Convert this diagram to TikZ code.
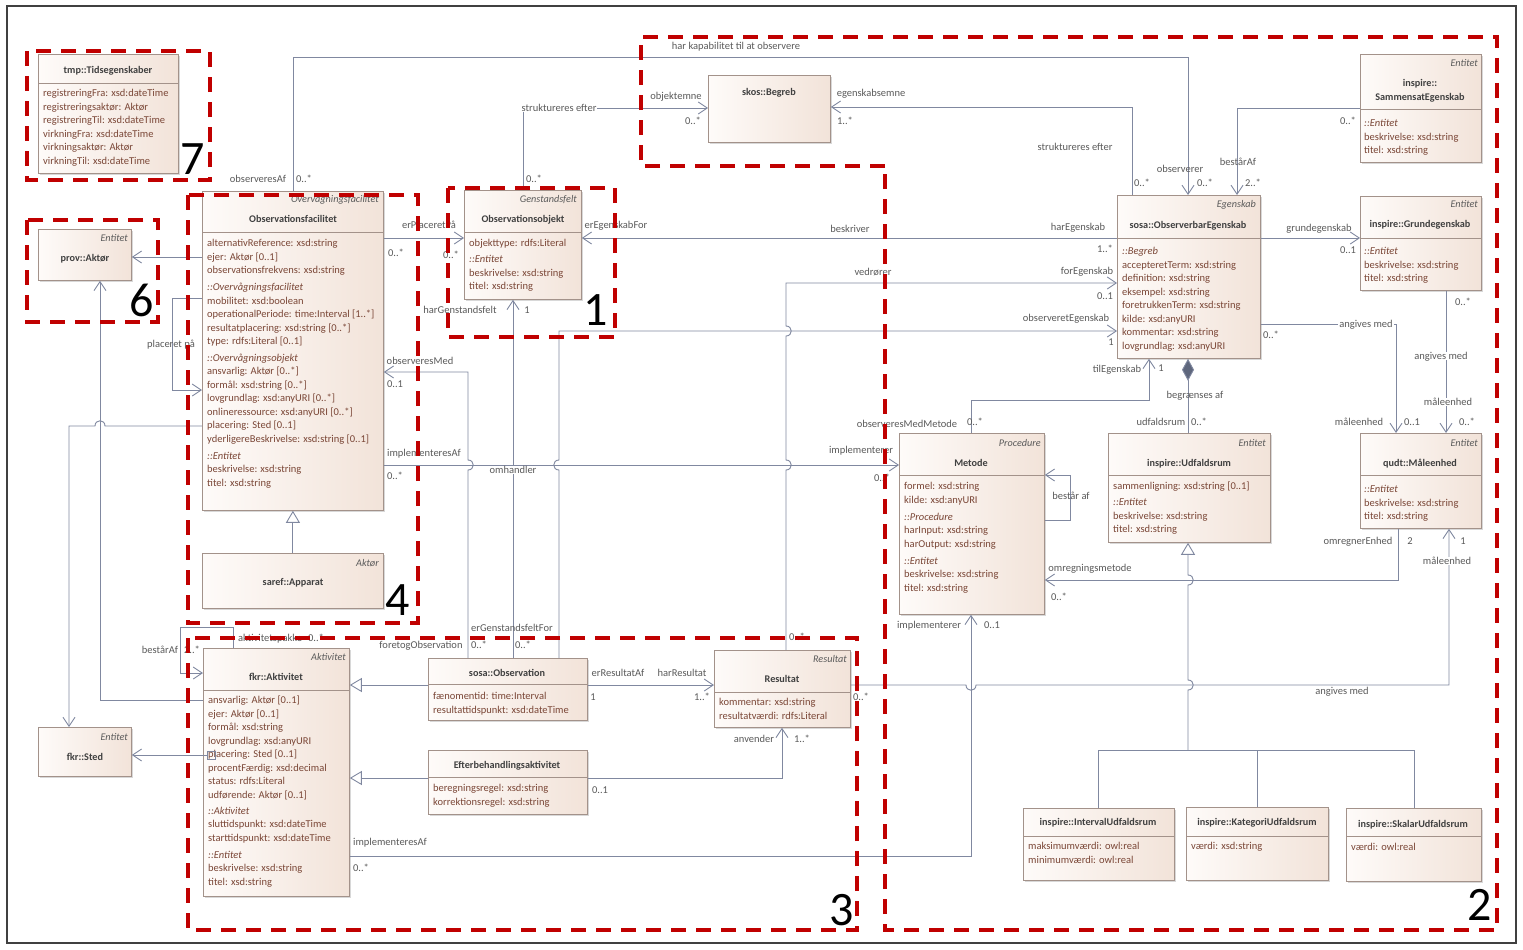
\documentclass[tikz,border=0pt]{standalone}
\usepackage{fontspec}
\setmainfont{Carlito}
\usetikzlibrary{arrows.meta, shadows}

\definecolor{conn}{HTML}{8088A0}
\definecolor{diacol}{HTML}{5E667C}
\definecolor{boxdraw}{HTML}{A3928A}
\definecolor{boxl}{HTML}{FEFBF9}
\definecolor{boxr}{HTML}{F2E3D9}
\definecolor{attrcol}{HTML}{7A4636}
\definecolor{namecol}{HTML}{404040}
\definecolor{stcol}{HTML}{5A5A5A}
\definecolor{lblcol}{HTML}{5A5A5A}
\definecolor{redd}{HTML}{C00000}

\newcommand{\umlfont}{\fontsize{10.5}{13.5}\selectfont}
\newcommand{\namefont}{\fontsize{10.2}{13.5}\selectfont}
\newcommand{\lblfont}{\fontsize{10.5}{12}\selectfont}
\newcommand{\bignum}{\fontsize{48}{50}\selectfont}

\tikzset{
  cls/.style={draw=boxdraw, line width=0.8pt, left color=boxl, right color=boxr,
    anchor=north west, inner sep=0pt,
    drop shadow={shadow xshift=1.5pt, shadow yshift=-1.5pt, opacity=0.3}},
  div/.style={draw=boxdraw, line width=0.8pt},
  attr/.style={font=\umlfont, text=attrcol, align=left, anchor=north west, inner sep=0pt},
  cname/.style={font=\namefont\bfseries, text=namecol, inner sep=0pt, text height=6.6pt, text depth=0pt},
  stereo/.style={font=\namefont\itshape, text=stcol, anchor=east, inner sep=0pt, text height=6.6pt, text depth=0pt},
  lbl/.style={font=\lblfont, text=lblcol, inner sep=1pt, text height=6.6pt, text depth=0pt},
  wlbl/.style={lbl, fill=white},
  cline/.style={draw=conn, line width=0.9pt},
  assoc/.style={cline, -{Straight Barb[length=9pt, width=12pt]}},
  gen/.style={cline, -{Triangle[open, length=12pt, width=14pt, fill=white]}},
  comp/.style={cline, -{Diamond[length=22pt, width=12pt, fill=diacol]}},
  region/.style={draw=redd, line width=3.6pt, dash pattern=on 15pt off 10pt},
  num/.style={font=\bignum, text=black, inner sep=0pt}
}

\begin{document}
\begin{tikzpicture}[x=1pt, y=-1pt]
\fill[white] (0,0) rectangle (1523,950);
\useasboundingbox (0,0) rectangle (1523,950);
\draw[draw=black!75, line width=1.2pt] (7,6) rectangle (1516,943);

% Klassen
\node[cls, minimum width=140pt, minimum height=119pt] (tids) at (38,54) {};
\node[cls, minimum width=93pt, minimum height=51pt] (aktor) at (38,229) {};
\node[cls, minimum width=181pt, minimum height=319pt] (ofac) at (202,191) {};
\node[cls, minimum width=181pt, minimum height=55pt] (appar) at (202,553) {};
\node[cls, minimum width=117pt, minimum height=109pt] (oobj) at (464,190) {};
\node[cls, minimum width=122pt, minimum height=67pt] (begreb) at (708,75) {};
\node[cls, minimum width=143pt, minimum height=163pt] (oegen) at (1117,195) {};
\node[cls, minimum width=121pt, minimum height=108pt] (samm) at (1360,54) {};
\node[cls, minimum width=121pt, minimum height=94pt] (grund) at (1360,196) {};
\node[cls, minimum width=145pt, minimum height=181pt] (metode) at (899,433) {};
\node[cls, minimum width=162pt, minimum height=109pt] (udf) at (1108,433) {};
\node[cls, minimum width=121pt, minimum height=95pt] (maal) at (1360,433) {};
\node[cls, minimum width=151pt, minimum height=72pt] (intv) at (1023,808) {};
\node[cls, minimum width=142pt, minimum height=73pt] (kat) at (1186,807) {};
\node[cls, minimum width=135pt, minimum height=73pt] (skal) at (1346,808) {};
\node[cls, minimum width=146pt, minimum height=248pt] (aktiv) at (203,648) {};
\node[cls, minimum width=93pt, minimum height=49pt] (sted) at (38,727) {};
\node[cls, minimum width=159pt, minimum height=62pt] (obs) at (428,658) {};
\node[cls, minimum width=159pt, minimum height=64pt] (efter) at (428,750) {};
\node[cls, minimum width=136pt, minimum height=77pt] (res) at (714,650) {};
\coordinate (gjunc) at (1188,750);

% Trennlinien
\draw[div] (tids.west |- 0,83) -- (tids.east |- 0,83);
\draw[div] (ofac.west |- 0,232) -- (ofac.east |- 0,232);
\draw[div] (oobj.west |- 0,232) -- (oobj.east |- 0,232);
\draw[div] (oegen.west |- 0,238) -- (oegen.east |- 0,238);
\draw[div] (samm.west |- 0,109) -- (samm.east |- 0,109);
\draw[div] (grund.west |- 0,238) -- (grund.east |- 0,238);
\draw[div] (metode.west |- 0,475) -- (metode.east |- 0,475);
\draw[div] (udf.west |- 0,475) -- (udf.east |- 0,475);
\draw[div] (maal.west |- 0,475) -- (maal.east |- 0,475);
\draw[div] (intv.west |- 0,836) -- (intv.east |- 0,836);
\draw[div] (kat.west |- 0,836) -- (kat.east |- 0,836);
\draw[div] (skal.west |- 0,836) -- (skal.east |- 0,836);
\draw[div] (aktiv.west |- 0,690) -- (aktiv.east |- 0,690);
\draw[div] (obs.west |- 0,684) -- (obs.east |- 0,684);
\draw[div] (efter.west |- 0,777) -- (efter.east |- 0,777);
\draw[div] (res.west |- 0,692) -- (res.east |- 0,692);

% Klassentexte
\node[cname] (tids-n) at (108,70) {tmp::Tidsegenskaber};
\node[attr] (tids-a) at (43,87) {\strut registreringFra: xsd:dateTime\\registreringsaktør: Aktør\\registreringTil: xsd:dateTime\\virkningFra: xsd:dateTime\\virkningsaktør: Aktør\\virkningTil: xsd:dateTime};

\node[stereo] (aktor-s) at (128,238) {Entitet};
\node[cname] (aktor-n) at (85,258) {prov::Aktør};

\node[stereo] (ofac-s) at (379,199) {Overvågningsfacilitet};
\node[cname] (ofac-n) at (293,219) {Observationsfacilitet};
\node[attr] (ofac-a) at (207,237) {\strut alternativReference: xsd:string\\ejer: Aktør [0..1]\\observationsfrekvens: xsd:string\\[3.5pt]
  \textit{::Overvågningsfacilitet}\\mobilitet: xsd:boolean\\operationalPeriode: time:Interval [1..*]\\resultatplacering: xsd:string [0..*]\\type: rdfs:Literal [0..1]\\[3pt]
  \textit{::Overvågningsobjekt}\\ansvarlig: Aktør [0..*]\\formål: xsd:string [0..*]\\lovgrundlag: xsd:anyURI [0..*]\\onlineressource: xsd:anyURI [0..*]\\placering: Sted [0..1]\\yderligereBeskrivelse: xsd:string [0..1]\\[3.5pt]
  \textit{::Entitet}\\beskrivelse: xsd:string\\titel: xsd:string};

\node[stereo] (appar-s) at (379,563) {Aktør};
\node[cname] (appar-n) at (293,582) {saref::Apparat};

\node[stereo] (oobj-s) at (577,199) {Genstandsfelt};
\node[cname] (oobj-n) at (523,219) {Observationsobjekt};
\node[attr] (oobj-a) at (469,237) {\strut objekttype: rdfs:Literal\\[2.5pt]\textit{::Entitet}\\beskrivelse: xsd:string\\titel: xsd:string};

\node[cname] (begreb-n) at (769,92) {skos::Begreb};

\node[stereo] (oegen-s) at (1256,204) {Egenskab};
\node[cname] (oegen-n) at (1188,225) {sosa::ObserverbarEgenskab};
\node[attr] (oegen-a) at (1122,245) {\strut\textit{::Begreb}\\accepteretTerm: xsd:string\\definition: xsd:string\\eksempel: xsd:string\\foretrukkenTerm: xsd:string\\kilde: xsd:anyURI\\kommentar: xsd:string\\lovgrundlag: xsd:anyURI};

\node[stereo] (samm-s) at (1478,63) {Entitet};
\node[cname] (samm-n1) at (1420,83) {inspire::};
\node[cname] (samm-n2) at (1420,97) {SammensatEgenskab};
\node[attr] (samm-a) at (1364,117) {\strut\textit{::Entitet}\\beskrivelse: xsd:string\\titel: xsd:string};

\node[stereo] (grund-s) at (1478,204) {Entitet};
\node[cname] (grund-n) at (1420,224) {inspire::Grundegenskab};
\node[attr] (grund-a) at (1364,245) {\strut\textit{::Entitet}\\beskrivelse: xsd:string\\titel: xsd:string};

\node[stereo] (metode-s) at (1041,443) {Procedure};
\node[cname] (metode-n) at (971,463) {Metode};
\node[attr] (metode-a) at (904,480) {\strut formel: xsd:string\\kilde: xsd:anyURI\\[3.5pt]\textit{::Procedure}\\harInput: xsd:string\\harOutput: xsd:string\\[3.5pt]\textit{::Entitet}\\beskrivelse: xsd:string\\titel: xsd:string};

\node[stereo] (udf-s) at (1266,443) {Entitet};
\node[cname] (udf-n) at (1189,463) {inspire::Udfaldsrum};
\node[attr] (udf-a) at (1113,480) {\strut sammenligning: xsd:string [0..1]\\[2.5pt]\textit{::Entitet}\\beskrivelse: xsd:string\\titel: xsd:string};

\node[stereo] (maal-s) at (1478,443) {Entitet};
\node[cname] (maal-n) at (1420,463) {qudt::Måleenhed};
\node[attr] (maal-a) at (1364,483) {\strut\textit{::Entitet}\\beskrivelse: xsd:string\\titel: xsd:string};

\node[cname] (intv-n) at (1098,822) {inspire::IntervalUdfaldsrum};
\node[attr] (intv-a) at (1028,840) {\strut maksimumværdi: owl:real\\minimumværdi: owl:real};
\node[cname] (kat-n) at (1257,822) {inspire::KategoriUdfaldsrum};
\node[attr] (kat-a) at (1191,840) {\strut værdi: xsd:string};
\node[cname] (skal-n) at (1413,824) {inspire::SkalarUdfaldsrum};
\node[attr] (skal-a) at (1351,841) {\strut værdi: owl:real};

\node[stereo] (aktiv-s) at (346,657) {Aktivitet};
\node[cname] (aktiv-n) at (276,677) {fkr::Aktivitet};
\node[attr] (aktiv-a) at (208,694) {\strut ansvarlig: Aktør [0..1]\\ejer: Aktør [0..1]\\formål: xsd:string\\lovgrundlag: xsd:anyURI\\placering: Sted [0..1]\\procentFærdig: xsd:decimal\\status: rdfs:Literal\\udførende: Aktør [0..1]\\[2.5pt]
  \textit{::Aktivitet}\\sluttidspunkt: xsd:dateTime\\starttidspunkt: xsd:dateTime\\[3.5pt]
  \textit{::Entitet}\\beskrivelse: xsd:string\\titel: xsd:string};
\node[draw=conn, line width=0.7pt, minimum size=8pt, inner sep=0pt] (plsq) at (211,755) {};

\node[stereo] (sted-s) at (128,737) {Entitet};
\node[cname] (sted-n) at (85,757) {fkr::Sted};

\node[cname] (obs-n) at (507,673) {sosa::Observation};
\node[attr] (obs-a) at (433,690) {\strut fænomentid: time:Interval\\resultattidspunkt: xsd:dateTime};

\node[cname] (efter-n) at (507,765) {Efterbehandlingsaktivitet};
\node[attr] (efter-a) at (433,782) {\strut beregningsregel: xsd:string\\korrektionsregel: xsd:string};

\node[stereo] (res-s) at (847,659) {Resultat};
\node[cname] (res-n) at (782,679) {Resultat};
\node[attr] (res-a) at (719,696) {\strut kommentar: xsd:string\\resultatværdi: rdfs:Literal};

% Verbindungen links
\draw[assoc] (ofac.west |- 0,257) -- (aktor.east |- 0,257);
\draw[assoc] (ofac.west |- 0,298) -- (172,298) -- (172,390) -- (ofac.west |- 0,390);
\draw[assoc] (ofac.west |- 0,426) -- (105,426) .. controls (105,419) and (95,419) .. (95,426) -- (69,426) -- (sted.north -| 69,0);
\draw[assoc] (aktiv.west |- 0,700) -- (100,700) -- (aktor.south -| 100,0);
\draw[assoc] (plsq.west) -- (sted.east |- 0,755);
\draw[assoc] (aktiv.north -| 233,0) -- (233,627) -- (180,627) -- (180,673) -- (aktiv.west |- 0,673);
\draw[gen] (obs.west |- 0,685) -- (aktiv.east |- 0,685);
\draw[gen] (efter.west |- 0,778) -- (aktiv.east |- 0,778);
\draw[gen] (appar.north) -- (ofac.south);

% Verbindungen oben
\draw[assoc] (ofac.east |- 0,238) -- (oobj.west |- 0,238);
\draw[assoc] (oegen.west |- 0,238) -- (oobj.east |- 0,238);
\draw[assoc] (ofac.north -| 293,0) -- (293,57) -- (1188,57) -- (oegen.north -| 1188,0);
\draw[assoc] (oobj.north -| 523,0) -- (523,108) -- (begreb.west |- 0,108);
\draw[assoc] (oegen.north -| 1132,0) -- (1132,107) -- (begreb.east |- 0,107);
\draw[assoc] (samm.west |- 0,108) -- (1237,108) -- (oegen.north -| 1237,0);
\draw[assoc] (oegen.east |- 0,238) -- (grund.west |- 0,238);

% Verbindungen Mitte
\draw[assoc] (res.north -| 786,0) -- (786,470) .. controls (793,470) and (793,460) .. (786,460) -- (786,336) .. controls (793,336) and (793,326) .. (786,326) -- (786,283) -- (oegen.west |- 0,283);
\draw[assoc] (obs.north -| 559,0) -- (559,470) .. controls (552,470) and (552,460) .. (559,460) -- (559,331) -- (oegen.west |- 0,331);
\draw[assoc] (obs.north -| 468,0) -- (468,470) .. controls (475,470) and (475,460) .. (468,460) -- (468,372) -- (ofac.east |- 0,372);
\draw[assoc] (obs.north -| 513,0) -- (oobj.south -| 513,0);
\draw[assoc] (ofac.east |- 0,465) -- (metode.west |- 0,465);
\draw[assoc] (metode.north -| 971,0) -- (971,400) -- (1149,400) -- (oegen.south -| 1149,0);
\draw[comp] (udf.north -| 1188,0) -- (oegen.south -| 1188,0);
\draw[assoc] (oegen.east |- 0,324) -- (1396,324) -- (maal.north -| 1396,0);
\draw[assoc] (grund.south -| 1446,0) -- (maal.north -| 1446,0);
\draw[assoc] (maal.south -| 1398,0) -- (1398,580) -- (metode.east |- 0,580);
\draw[assoc] (metode.east |- 0,520) -- (1070,520) -- (1070,475) -- (metode.east |- 0,475);

% Verbindungen unten
\draw[assoc] (res.east |- 0,685) -- (966,685) .. controls (966,692) and (976,692) .. (976,685) -- (1449,685) -- (maal.south -| 1449,0);
\draw[assoc] (aktiv.east |- 0,856) -- (971,856) -- (metode.south -| 971,0);
\draw[assoc] (obs.east |- 0,685) -- (res.west |- 0,685);
\draw[assoc] (efter.east |- 0,778) -- (782,778) -- (res.south -| 782,0);
\draw[gen] (gjunc) -- (1188,690) .. controls (1195,690) and (1195,680) .. (1188,680) -- (1188,585) .. controls (1195,585) and (1195,575) .. (1188,575) -- (udf.south -| 1188,0);
\draw[cline] (intv.north -| 1098,0) -- (1098,750) -- (1414,750) -- (skal.north -| 1414,0);
\draw[cline] (kat.north -| 1257,0) -- (1257,750);

% Beschriftungen
\node[lbl] (l1) at (258,179) {observeresAf};
\node[lbl] (l2) at (304,179) {0..*};
\node[lbl] (l3) at (736,46) {har kapabilitet til at observere};
\node[lbl] (l4) at (1180,169) {observerer};
\node[lbl] (l5) at (1205,183) {0..*};
\node[lbl] (l6) at (534,179) {0..*};
\node[wlbl] (l7) at (559,108) {struktureres efter};
\node[lbl] (l8) at (676,96) {objektemne};
\node[lbl] (l9) at (693,121) {0..*};
\node[lbl] (l10) at (871,93) {egenskabsemne};
\node[lbl] (l11) at (845,121) {1..*};
\node[lbl] (l12) at (1075,147) {struktureres efter};
\node[lbl] (l13) at (1142,183) {0..*};
\node[lbl] (l14) at (1348,121) {0..*};
\node[lbl] (l15) at (1238,162) {bestårAf};
\node[lbl] (l16) at (1253,183) {2..*};
\node[lbl] (l17) at (1319,228) {grundegenskab};
\node[lbl] (l18) at (1348,250) {0..1};
\node[lbl] (l19) at (429,225) {erPlaceretPå};
\node[lbl] (l20) at (396,253) {0..*};
\node[lbl] (l21) at (451,255) {0..*};
\node[lbl] (l22) at (616,225) {erEgenskabFor};
\node[lbl] (l23) at (850,229) {beskriver};
\node[lbl] (l24) at (1078,227) {harEgenskab};
\node[lbl] (l25) at (1105,249) {1..*};
\node[lbl] (l26) at (873,272) {vedrører};
\node[lbl] (l27) at (1087,271) {forEgenskab};
\node[lbl] (l28) at (1105,296) {0..1};
\node[lbl] (l29) at (797,637) {0..*};
\node[lbl] (l30) at (1066,318) {observeretEgenskab};
\node[lbl] (l31) at (1111,342) {1};
\node[lbl] (l32) at (420,361) {observeresMed};
\node[lbl] (l33) at (395,384) {0..1};
\node[lbl] (l34) at (421,645) {foretogObservation};
\node[lbl] (l35) at (479,645) {0..*};
\node[lbl] (l36) at (460,310) {harGenstandsfelt};
\node[lbl] (l37) at (527,310) {1};
\node[wlbl] (l38) at (513,470) {omhandler};
\node[lbl] (l39) at (512,628) {erGenstandsfeltFor};
\node[lbl] (l40) at (523,645) {0..*};
\node[lbl] (l41) at (424,453) {implementeresAf};
\node[lbl] (l42) at (395,476) {0..*};
\node[lbl] (l43) at (861,450) {implementerer};
\node[lbl] (l44) at (882,478) {0..*};
\node[lbl] (l45) at (907,424) {observeresMedMetode};
\node[lbl] (l46) at (975,422) {0..*};
\node[lbl] (l47) at (1117,369) {tilEgenskab};
\node[lbl] (l48) at (1161,368) {1};
\node[lbl] (l49) at (1195,395) {begrænses af};
\node[lbl] (l50) at (1161,422) {udfaldsrum};
\node[lbl] (l51) at (1199,422) {0..*};
\node[lbl] (l52) at (1271,335) {0..*};
\node[wlbl] (l53) at (1366,324) {angives med};
\node[lbl] (l54) at (1359,422) {måleenhed};
\node[lbl] (l55) at (1412,422) {0..1};
\node[lbl] (l56) at (1463,302) {0..*};
\node[wlbl] (l57) at (1441,356) {angives med};
\node[wlbl] (l58) at (1448,402) {måleenhed};
\node[lbl] (l59) at (1467,422) {0..*};
\node[lbl] (l60) at (1358,541) {omregnerEnhed};
\node[lbl] (l61) at (1410,541) {2};
\node[lbl] (l62) at (1090,568) {omregningsmetode};
\node[lbl] (l63) at (1059,597) {0..*};
\node[lbl] (l64) at (861,697) {0..*};
\node[lbl] (l65) at (1342,691) {angives med};
\node[lbl] (l66) at (1463,541) {1};
\node[wlbl] (l67) at (1447,561) {måleenhed};
\node[lbl] (l68) at (390,842) {implementeresAf};
\node[lbl] (l69) at (361,868) {0..*};
\node[lbl] (l70) at (929,625) {implementerer};
\node[lbl] (l71) at (992,625) {0..1};
\node[lbl] (l72) at (618,673) {erResultatAf};
\node[lbl] (l73) at (593,697) {1};
\node[lbl] (l74) at (682,673) {harResultat};
\node[lbl] (l75) at (702,697) {1..*};
\node[lbl] (l76) at (600,790) {0..1};
\node[lbl] (l77) at (754,739) {anvender};
\node[lbl] (l78) at (802,739) {1..*};
\node[lbl] (l79) at (1071,496) {består af};
\node[lbl] (l80) at (270,638) {aktivitetspakke};
\node[lbl] (l81) at (316,638) {0..*};
\node[lbl] (l82) at (160,650) {bestårAf};
\node[lbl] (l83) at (192,650) {2..*};
\node[lbl] (l84) at (171,344) {placeret på};

% Markierte Bereiche
\draw[region] (27,51) rectangle (210,180);
\draw[region] (27,220) rectangle (158,322);
\draw[region] (188,195) rectangle (418,623);
\draw[region] (448,188) rectangle (615,337);
\draw[region] (188,638) rectangle (857,930);
\draw[region] (885,166) -- (641,166) -- (641,37) -- (1497,37) -- (1497,930) -- (885,930) -- cycle;
\node[num] (n7) at (193,159) {7};
\node[num] (n6) at (142,300) {6};
\node[num] (n4) at (398,600) {4};
\node[num] (n1) at (596,310) {1};
\node[num] (n3) at (842,910) {3};
\node[num] (n2) at (1480,905) {2};
\end{tikzpicture}
\end{document}
